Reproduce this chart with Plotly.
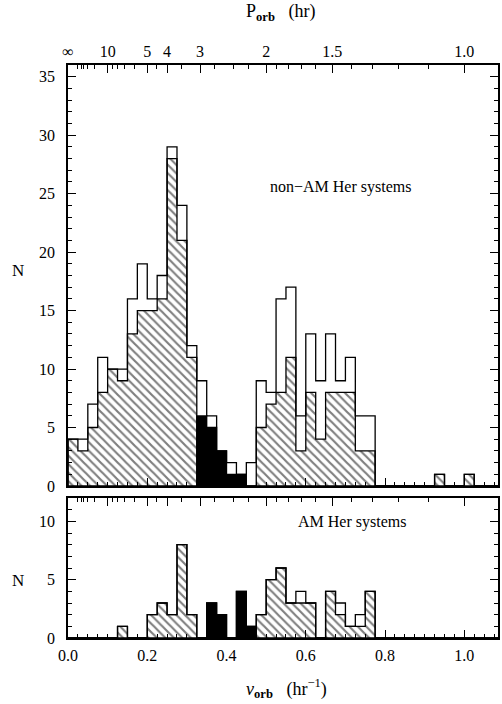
import plotly.graph_objects as go

BIN_WIDTH = 0.025
N_BINS = 44

# non-AM Her systems (top panel), bins of 0.025 hr^-1 starting at 0
nonam_total = [4, 4, 7, 11, 10, 10, 16, 19, 16, 18, 29, 24, 12, 9, 6, 3, 2, 1, 2, 9, 8, 16,
               17, 6, 13, 9, 13, 9, 11, 6, 6, 0, 0, 0, 0, 0, 0, 1, 0, 0, 1, 0, 0, 0]
nonam_hatched = [4, 3, 5, 8, 10, 9, 13, 15, 15, 16, 28, 21, 11, 0, 0, 0, 0, 0, 0, 5, 7, 8,
                 11, 3, 8, 4, 8, 8, 8, 3, 3, 0, 0, 0, 0, 0, 0, 1, 0, 0, 1, 0, 0, 0]
nonam_black = [0, 0, 0, 0, 0, 0, 0, 0, 0, 0, 0, 0, 0, 6, 5, 3, 1, 1, 0, 0, 0, 0,
               0, 0, 0, 0, 0, 0, 0, 0, 0, 0, 0, 0, 0, 0, 0, 0, 0, 0, 0, 0, 0, 0]

# AM Her systems (bottom panel)
amher_total = [0, 0, 0, 0, 0, 1, 0, 0, 2, 3, 2, 8, 2, 0, 3, 2, 0, 4, 1, 2, 5, 6,
               3, 4, 3, 0, 4, 3, 1, 2, 4, 0, 0, 0, 0, 0, 0, 0, 0, 0, 0, 0, 0, 0]
amher_hatched = [0, 0, 0, 0, 0, 1, 0, 0, 2, 3, 2, 8, 2, 0, 0, 0, 0, 0, 0, 2, 5, 6,
                 3, 3, 3, 0, 4, 2, 1, 1, 4, 0, 0, 0, 0, 0, 0, 0, 0, 0, 0, 0, 0, 0]
amher_black = [0, 0, 0, 0, 0, 0, 0, 0, 0, 0, 0, 0, 0, 0, 3, 2, 0, 4, 1, 0, 0, 0,
               0, 0, 0, 0, 0, 0, 0, 0, 0, 0, 0, 0, 0, 0, 0, 0, 0, 0, 0, 0, 0, 0]

nu_major_ticks = [0.0, 0.2, 0.4, 0.6, 0.8, 1.0]
nu_tick_labels = ["0.0", "0.2", "0.4", "0.6", "0.8", "1.0"]
period_major = [None, 10, 5, 4, 3, 2, 1.5, 1.0]   # None = infinity
period_labels = ["∞", "10", "5", "4", "3", "2", "1.5", "1.0"]
period_minor = [40, 30, 25, 20, 15, 9, 8, 7, 6, 4.5, 3.5, 2.7, 2.4, 2.2,
                1.9, 1.8, 1.7, 1.6, 1.4, 1.3, 1.2, 1.1]

FONT = "Liberation Serif"
XR = [0, 1.085]

centers = [(i + 0.5) * BIN_WIDTH for i in range(N_BINS)]


def step_xy(counts):
    xs, ys = [0.0], [0]
    for i, c in enumerate(counts):
        xs += [i * BIN_WIDTH, (i + 1) * BIN_WIDTH]
        ys += [c, c]
    xs.append(len(counts) * BIN_WIDTH)
    ys.append(0)
    return xs, ys


fig = go.Figure()


def add_panel(total, hatched, black, xa, ya):
    fig.add_trace(go.Bar(
        x=centers, y=hatched, width=BIN_WIDTH, xaxis=xa, yaxis=ya,
        marker=dict(color="white", line=dict(width=0),
                    pattern=dict(shape="\\", fgcolor="black", bgcolor="white",
                                 size=6, solidity=0.36)),
        showlegend=False, hoverinfo="skip"))
    fig.add_trace(go.Bar(
        x=centers, y=black, width=BIN_WIDTH, xaxis=xa, yaxis=ya,
        marker=dict(color="black", line=dict(width=0)),
        showlegend=False, hoverinfo="skip"))
    for arr in (hatched, black, total):
        sx, sy = step_xy(arr)
        fig.add_trace(go.Scatter(
            x=sx, y=sy, xaxis=xa, yaxis=ya, mode="lines",
            line=dict(color="black", width=1.3),
            showlegend=False, hoverinfo="skip"))


add_panel(nonam_total, nonam_hatched, nonam_black, "x", "y")
add_panel(amher_total, amher_hatched, amher_black, "x2", "y2")

# dummy traces so the period axes are drawn
fig.add_trace(go.Scatter(x=[0.5], y=[0], xaxis="x3", yaxis="y", mode="markers",
                         marker=dict(opacity=0), showlegend=False, hoverinfo="skip"))
fig.add_trace(go.Scatter(x=[0.5], y=[0], xaxis="x4", yaxis="y2", mode="markers",
                         marker=dict(opacity=0), showlegend=False, hoverinfo="skip"))

period_major_nu = [0.0 if p is None else 1.0 / p for p in period_major]
period_minor_nu = [1.0 / p for p in period_minor]

common_x = dict(range=XR, showline=True, linecolor="black", linewidth=1.5,
                showgrid=False, zeroline=False, ticks="inside", ticklen=8,
                tickcolor="black", tickwidth=1)

nu_axis = dict(common_x, mirror=True, tickmode="array", tickvals=nu_major_ticks,
               ticktext=nu_tick_labels,
               minor=dict(ticks="inside", ticklen=4, tickcolor="black",
                          tickmode="linear", tick0=0, dtick=0.025, showgrid=False))

p_axis = dict(common_x, showline=False, side="top", tickmode="array",
              tickvals=period_major_nu, ticktext=period_labels,
              minor=dict(ticks="inside", ticklen=4, tickcolor="black",
                         tickmode="array", tickvals=period_minor_nu, showgrid=False))

common_y = dict(showline=True, linecolor="black", linewidth=1.5, mirror="ticks",
                showgrid=False, zeroline=False, ticks="inside", ticklen=8,
                tickcolor="black", dtick=5, tick0=0,
                tickfont=dict(family=FONT, size=16, color="black"),
                ticklabelstandoff=8,
                minor=dict(ticks="inside", ticklen=4, tickcolor="black", dtick=1,
                           showgrid=False))

TOP_DOM = [0.2653, 1.0]
BOT_DOM = [0.0, 0.2443]


def note(text, x, y, size):
    return dict(text=text, xref="paper", yref="paper", x=x, y=y,
                xanchor="center", yanchor="middle", showarrow=False,
                font=dict(family=FONT, size=size, color="black"))


fig.update_layout(
    width=502, height=704,
    margin=dict(l=68, r=2, t=65, b=66),
    paper_bgcolor="white", plot_bgcolor="white",
    barmode="overlay", bargap=0,
    font=dict(family=FONT, color="black"),
    xaxis=dict(nu_axis, anchor="y", domain=[0, 1], showticklabels=False),
    xaxis2=dict(nu_axis, anchor="y2", domain=[0, 1], showticklabels=True,
                tickfont=dict(family=FONT, size=16, color="black"),
                ticklabelstandoff=2),
    xaxis3=dict(p_axis, anchor="y", overlaying="x", showticklabels=True,
                tickfont=dict(family=FONT, size=16, color="black"),
                ticklabelstandoff=4),
    xaxis4=dict(p_axis, anchor="y2", overlaying="x2", showticklabels=False),
    yaxis=dict(common_y, anchor="x", domain=TOP_DOM, range=[0, 36]),
    yaxis2=dict(common_y, anchor="x2", domain=BOT_DOM, range=[0, 12]),
    annotations=[
        note("N", -0.1157, 0.642, 17),
        note("N", -0.1157, 0.101, 17),
        note("non−AM Her systems", 0.633, 0.787, 16),
        note("AM Her systems", 0.66, 0.2024, 16),
        note("P<sub><b>orb</b></sub>   (hr)", 0.495, 1.092, 18),
        note("<i>ν</i><sub><b>orb</b></sub>   (hr<sup>−1</sup>)", 0.507, -0.089, 18),
    ],
)

fig.write_html("out.html")
